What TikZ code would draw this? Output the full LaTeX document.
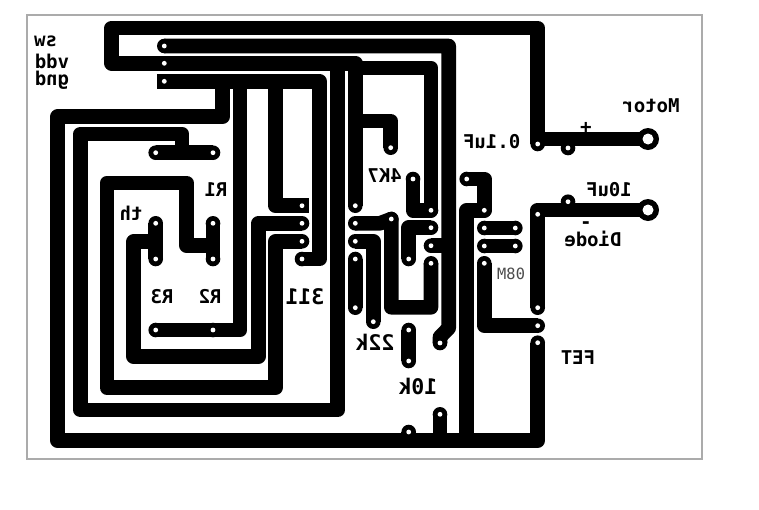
\documentclass[tikz,border=0pt]{standalone}
\usepackage{fontspec}
\setmonofont[BoldFont={DejaVu Sans Mono Bold}]{DejaVu Sans Mono}
\tikzset{
  trace/.style={line width=14.6pt,line join=round,line cap=butt,draw=black},
  lbl/.style={xscale=-1,inner sep=0pt,font=\ttfamily\bfseries\fontsize{19}{19}\selectfont,text=black},
  biglbl/.style={lbl,font=\ttfamily\bfseries\fontsize{21.5}{22}\selectfont},
  smalllbl/.style={xscale=-1,inner sep=0pt,font=\ttfamily\fontsize{15.5}{16}\selectfont,text=black!70}
}
\begin{document}
\begin{tikzpicture}[x=1pt,y=-1pt]
\useasboundingbox (0,0) rectangle (759,509);
\fill[white] (0,0) rectangle (759,509);
\draw[line width=1.2pt,draw=black!33] (27,15) rectangle (702,459);
% switch / motor net
\draw[trace] (164.3,63.3) -- (111.7,63.3) -- (111.7,28) -- (537.7,28) -- (537.7,139) -- (648,139);
\draw[trace] (537.7,139) -- (537.7,144);
\draw[trace] (568,139) -- (568,148);
% sw
\draw[trace] (164.3,46) -- (448.7,46) -- (448.7,328) -- (440,337) -- (440,343);
% vdd
\draw[trace] (164.3,63.3) -- (355.7,63.3) -- (355.7,205.7);
\draw[trace] (355.7,68) -- (431,68) -- (431,210.3) -- (413,210.3) -- (413,179);
\draw[trace] (355.7,121) -- (390.7,121) -- (390.7,147.7);
\draw[trace] (337.7,63.3) -- (337.7,410) -- (80.5,410) -- (80.5,134) -- (182,134) -- (182,152.7);
\draw[trace] (155.7,152.7) -- (213,152.7);
% gnd
\draw[trace] (157.3,81.3) -- (319.7,81.3) -- (319.7,259) -- (302,259);
\draw[trace] (222.7,81.3) -- (222.7,116.7) -- (57.7,116.7) -- (57.7,440.7) -- (537.7,440.7) -- (537.7,342.7);
\draw[trace] (240,81.3) -- (240,330) -- (155.7,330);
\draw[trace] (275.3,81.3) -- (275.3,205.7) -- (309.3,205.7);
% sensor nets
\draw[trace] (302,223.3) -- (258.3,223.3) -- (258.3,356.7) -- (133.7,356.7) -- (133.7,241.7) -- (155.7,241.7);
\draw[trace] (155.7,223.3) -- (155.7,259);
\draw[trace] (302,241.3) -- (275.6,241.3) -- (275.6,387.7) -- (107,387.7) -- (107,183) -- (186.7,183) -- (186.7,245.7) -- (213,245.7);
\draw[trace] (213,223.3) -- (213,259);
% centre
\draw[trace] (355.3,223.3) -- (380,223.3) -- (391.3,219) -- (391.3,307.3) -- (431,307.3) -- (431,263.3);
\draw[trace] (355.3,241.3) -- (373.3,241.3) -- (373.3,321.7);
\draw[trace] (355.3,259) -- (355.3,307.7);
\draw[trace] (431,227.7) -- (408.7,227.7) -- (408.7,259);
\draw[trace] (431,245.7) -- (448.7,245.7);
\draw[trace] (408.7,330) -- (408.7,361);
\draw[trace] (440,414.3) -- (440,440.7);
\draw[trace] (408.7,432) -- (408.7,440.7);
% right
\draw[trace] (466.7,179) -- (484.3,179) -- (484.3,210.3) -- (466.7,210.3) -- (466.7,440.7);
\draw[trace] (484.3,228) -- (515.3,228);
\draw[trace] (484.3,246) -- (515.3,246);
\draw[trace] (484.3,263.3) -- (484.3,325.7) -- (537.7,325.7);
\draw[trace] (537.7,307.7) -- (537.7,210) -- (648,210);
\draw[trace] (568,201.7) -- (568,210);
% pads
\foreach \px/\py in {164.3/46,164.3/63.3,155.7/152.7,213/152.7,
  155.7/223.3,155.7/259,213/223.3,213/259,155.7/330,213/330,
  302/223.3,302/241.3,302/259,
  355.3/205.7,355.3/223.3,355.3/241.3,355.3/259,355.3/307.7,373.3/321.7,
  390.7/147.7,391.3/219,413/179,431/210.3,431/227.7,431/245.7,431/263.3,408.7/259,
  408.7/330,408.7/361,440/343,440/414.3,408.7/432,
  466.7/179,484.3/210.3,484.3/228,515.3/228,484.3/246,515.3/246,484.3/263.3,
  537.7/144,568/148,537.7/214.3,568/201.7,537.7/307.7,537.7/325.7,537.7/342.7}
  {\fill[black] (\px,\py) circle (7.3);}
\fill[black] (157,74) rectangle (171.6,88.6);
\fill[black] (648,139) circle (11);
\fill[black] (648,210) circle (11);
% holes
\foreach \px/\py in {164.3/46,164.3/63.3,164.3/81.3,155.7/152.7,213/152.7,
  155.7/223.3,155.7/259,213/223.3,213/259,155.7/330,213/330,
  302/205.7,302/223.3,302/241.3,302/259,
  355.3/205.7,355.3/223.3,355.3/241.3,355.3/259,355.3/307.7,373.3/321.7,
  390.7/147.7,391.3/219,413/179,431/210.3,431/227.7,431/245.7,431/263.3,408.7/259,
  408.7/330,408.7/361,440/343,440/414.3,408.7/432,
  466.7/179,484.3/210.3,484.3/228,515.3/228,484.3/246,515.3/246,484.3/263.3,
  537.7/144,568/148,537.7/214.3,568/201.7,537.7/307.7,537.7/325.7,537.7/342.7}
  {\fill[white] (\px,\py) circle (2.4);}
\fill[white] (648,139) circle (5.5);
\fill[white] (648,210) circle (5.5);
% labels
\node[lbl] (tsw) at (45.7,41) {sw};
\node[lbl] (tvdd) at (52,61) {vdd};
\node[lbl] (tgnd) at (52,80) {gnd};
\node[lbl] (tmotor) at (651,105.7) {Motor};
\node[lbl] (tcapa) at (491.7,141.7) {0.1uF};
\node[lbl] (tplus) at (586,128) {+};
\node[lbl] (tkb) at (384.7,176) {4K7};
\node[lbl] (tcapb) at (609,190) {10uF};
\node[lbl] (tminus) at (586,225) {-};
\node[lbl] (tdiode) at (593,239) {Diode};
\node[lbl] (rone) at (216,190) {R1};
\node[lbl] (tth) at (131,213) {th};
\node[lbl] (rthree) at (162,296.7) {R3};
\node[lbl] (rtwo) at (210,296.7) {R2};
\node[biglbl] (t311) at (305,297) {311};
\node[smalllbl] (tmcu) at (511,274) {08M};
\node[biglbl] (t22k) at (375,342.7) {22k};
\node[lbl] (tfet) at (578,358) {FET};
\node[biglbl] (t10k) at (418,386.7) {10k};
\end{tikzpicture}
\end{document}
